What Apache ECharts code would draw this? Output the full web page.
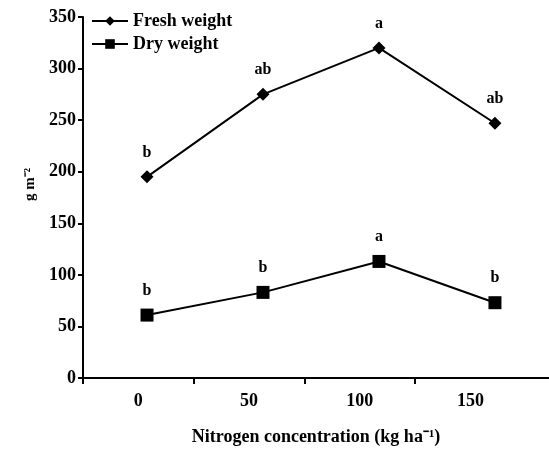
<!DOCTYPE html>
<html><head><meta charset="utf-8">
<script src="https://cdn.jsdelivr.net/npm/echarts@6/dist/echarts.min.js"></script>
<style>html,body{margin:0;padding:0;background:#fff}#c{width:549px;height:451px}</style>
</head><body><div id="c"></div>
<script>
const nitrogen = [0, 50, 100, 150];
const freshWeight = [195, 275, 320, 247];
const dryWeight = [61, 83, 113, 73];
const freshLetters = ['b', 'ab', 'a', 'ab'];
const dryLetters = ['b', 'b', 'a', 'b'];
const yTicks = [0, 50, 100, 150, 200, 250, 300, 350];

const F = 'Liberation Serif';
const chart = echarts.init(document.getElementById('c'), null, {renderer: 'canvas'});
function pts(vals, letters) {
  return vals.map((v, i) => ({value: [nitrogen[i], v], label: {formatter: letters[i]}}));
}
const lbl = {show: true, position: 'top', distance: 10, color: '#000', fontFamily: F, fontWeight: 'bold', fontSize: 16};
chart.setOption({
  animation: false,
  grid: {left: 83, right: 0, top: 17, bottom: 70},
  legend: {
    orient: 'vertical', left: 86, top: 7, itemGap: 5, itemWidth: 36, itemHeight: 12,
    textStyle: {fontFamily: F, fontSize: 18, fontWeight: 'bold', color: '#000'},
    data: ['Fresh weight', 'Dry weight']
  },
  xAxis: [{
    type: 'value', min: -25, max: 185.5,
    axisLine: {onZero: false, lineStyle: {color: '#000', width: 2}},
    axisTick: {show: true, length: 6, inside: false, lineStyle: {width: 2, color: '#000'}, customValues: [-25, 25, 75, 125]},
    axisLabel: {color: '#000', fontFamily: F, fontWeight: 'bold', fontSize: 18, margin: 14, customValues: nitrogen},
    splitLine: {show: false},
    name: 'Nitrogen concentration (kg ha\u207B\u00B9)', nameLocation: 'middle', nameGap: 50,
    nameTextStyle: {color: '#000', fontFamily: F, fontSize: 18, fontWeight: 'bold'}
  }, {
    type: 'value', min: -27.6, max: 173.3, show: false
  }],
  yAxis: {
    type: 'value', min: 0, max: 350, interval: 50,
    axisLine: {show: true, onZero: false, lineStyle: {color: '#000', width: 2}},
    axisTick: {show: true, length: 5, inside: false, lineStyle: {width: 2, color: '#000'}, customValues: yTicks},
    axisLabel: {color: '#000', fontFamily: F, fontWeight: 'bold', fontSize: 18, margin: 7, customValues: yTicks},
    splitLine: {show: false},
    name: 'g m\u207B\u00B2', nameLocation: 'middle', nameGap: 43, nameRotate: 90,
    nameTextStyle: {color: '#000', fontFamily: F, fontSize: 15, fontWeight: 'bold', padding: [0, 0, 0, 26]}
  },
  series: [{
    name: 'Fresh weight', type: 'line', xAxisIndex: 1,
    data: pts(freshWeight, freshLetters),
    symbol: 'diamond', symbolSize: 13,
    itemStyle: {color: '#000'}, lineStyle: {color: '#000', width: 2},
    label: lbl
  }, {
    name: 'Dry weight', type: 'line', xAxisIndex: 1,
    data: pts(dryWeight, dryLetters),
    symbol: 'rect', symbolSize: 13,
    itemStyle: {color: '#000'}, lineStyle: {color: '#000', width: 2},
    label: lbl
  }]
});
</script></body></html>
